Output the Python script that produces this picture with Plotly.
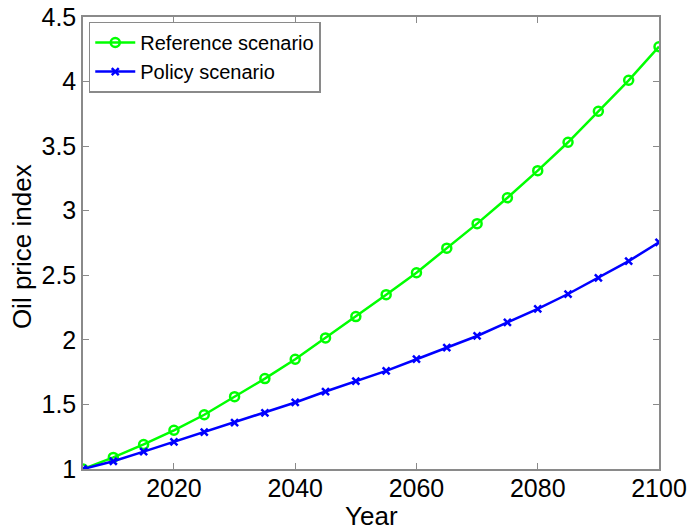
import plotly.graph_objects as go

years = [2005, 2010, 2015, 2020, 2025, 2030, 2035, 2040, 2045, 2050,
         2055, 2060, 2065, 2070, 2075, 2080, 2085, 2090, 2095, 2100]
reference = [1.00, 1.09, 1.19, 1.30, 1.42, 1.56, 1.70, 1.85, 2.015, 2.18,
             2.35, 2.52, 2.71, 2.90, 3.10, 3.31, 3.53, 3.77, 4.01, 4.27]
policy = [1.00, 1.06, 1.135, 1.21, 1.285, 1.36, 1.435, 1.515, 1.60, 1.68,
          1.76, 1.85, 1.94, 2.03, 2.135, 2.24, 2.355, 2.48, 2.61, 2.755]
x_ticks = [2020, 2040, 2060, 2080, 2100]
y_ticks = [1, 1.5, 2, 2.5, 3, 3.5, 4, 4.5]
y_tick_text = ["1", "1.5", "2", "2.5", "3", "3.5", "4", "4.5"]

font = "Liberation Sans, Arial, sans-serif"

fig = go.Figure()
fig.add_trace(go.Scatter(
    x=years, y=reference, name="Reference scenario", mode="lines+markers",
    line=dict(color="#00FF00", width=2.5),
    marker=dict(symbol="circle-open", size=9, color="#00FF00", line=dict(width=2.5, color="#00FF00")),
))
fig.add_trace(go.Scatter(
    x=years, y=policy, name="Policy scenario", mode="lines+markers",
    line=dict(color="#0000FF", width=2.5),
    marker=dict(symbol="x-thin", size=7, color="#0000FF", line=dict(width=2.5, color="#0000FF")),
))

axis_common = dict(
    showline=True, linecolor="#8a8a8a", linewidth=1.5, mirror="ticks",
    ticks="inside", ticklen=6, tickcolor="#8a8a8a", tickwidth=1,
    showgrid=False, zeroline=False, automargin=False,
    tickfont=dict(family=font, size=25, color="black"),
)

fig.update_layout(
    width=687, height=530,
    margin=dict(l=83, r=28, t=17, b=61),
    paper_bgcolor="white", plot_bgcolor="white",
    font=dict(family=font, color="black"),
    xaxis=dict(range=[2005, 2100], tickvals=x_ticks, ticklabelstandoff=-4, **axis_common),
    yaxis=dict(range=[1, 4.5], tickvals=y_ticks, ticktext=y_tick_text, **axis_common),
    legend=dict(x=0.01, y=0.99, xanchor="left", yanchor="top",
                bgcolor="white", bordercolor="#8a8a8a", borderwidth=1.5,
                font=dict(family=font, size=20), tracegroupgap=0,
                itemwidth=40),
    showlegend=True,
    annotations=[
        dict(text="Year", xref="paper", yref="paper", x=0.5, y=-0.104,
             xanchor="center", yanchor="middle", showarrow=False,
             font=dict(family=font, size=26, color="black")),
        dict(text="Oil price index", xref="paper", yref="paper", x=-0.106, y=0.493,
             xanchor="center", yanchor="middle", textangle=-90, showarrow=False,
             font=dict(family=font, size=26, color="black")),
    ],
)

fig.write_html("out.html")
